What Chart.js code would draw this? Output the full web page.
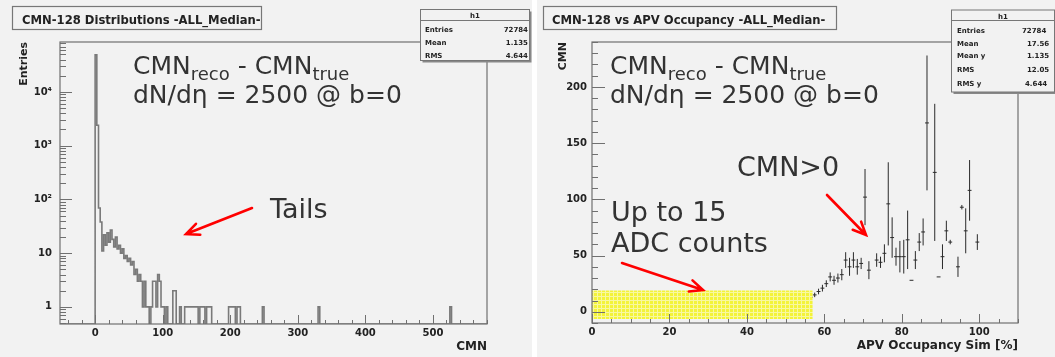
<!DOCTYPE html>
<html><head><meta charset="utf-8">
<script src="https://cdn.jsdelivr.net/npm/chart.js@4"></script>
<style>
html,body{margin:0;padding:0;}
body{width:1055px;height:357px;background:#ffffff;position:relative;overflow:hidden;font-family:"DejaVu Sans",sans-serif;}
.panel{position:absolute;top:0;height:357px;background:#f2f2f2;}
#pl{left:0;width:532px;}
#pr{left:537px;width:518px;}
#cl{position:absolute;left:0;top:0;}
#cr{position:absolute;left:537px;top:0;}
#ov{position:absolute;left:0;top:0;pointer-events:none;}
</style></head><body>
<div class="panel" id="pl"></div><div class="panel" id="pr"></div>
<canvas id="cl" width="532" height="357"></canvas>
<canvas id="cr" width="518" height="357"></canvas>
<svg id="ov" width="1055" height="357" xmlns="http://www.w3.org/2000/svg" font-family="DejaVu Sans">
  <!-- left title -->
  <rect x="12.5" y="6.5" width="249" height="23" fill="#f2f2f2" stroke="#777" stroke-width="1.2"/>
  <text x="22" y="23.5" font-size="11.6" font-weight="bold" fill="#222">CMN-128 Distributions -ALL_Median-</text>
  <!-- right title -->
  <rect x="543.5" y="6.5" width="293" height="23" fill="#f2f2f2" stroke="#777" stroke-width="1.2"/>
  <text x="552" y="23.5" font-size="11.6" font-weight="bold" fill="#222">CMN-128 vs APV Occupancy -ALL_Median-</text>
  <!-- left stats -->
  <rect x="422.5" y="11.5" width="109" height="51" fill="#888"/>
  <rect x="420.5" y="9.5" width="109" height="51" fill="#f2f2f2" stroke="#777" stroke-width="1"/>
  <line x1="420.5" y1="20.5" x2="529.5" y2="20.5" stroke="#777"/>
  <g font-size="7" font-weight="bold" fill="#222">
    <text x="475" y="18" text-anchor="middle">h1</text>
    <text x="425" y="32">Entries</text><text x="528" y="32" text-anchor="end">72784</text>
    <text x="425" y="45">Mean</text><text x="528" y="45" text-anchor="end">1.135</text>
    <text x="425" y="57.5">RMS</text><text x="528" y="57.5" text-anchor="end">4.644</text>
  </g>
  <!-- right stats -->
  <rect x="953.5" y="12" width="103" height="82" fill="#888"/>
  <rect x="951.5" y="10" width="103" height="82" fill="#f2f2f2" stroke="#777" stroke-width="1"/>
  <line x1="951.5" y1="20.5" x2="1054.5" y2="20.5" stroke="#777"/>
  <g font-size="7" font-weight="bold" fill="#222">
    <text x="1003" y="18.5" text-anchor="middle">h1</text>
    <text x="957" y="33">Entries</text><text x="1022" y="33">72784</text>
    <text x="957" y="46">Mean</text><text x="1027" y="46">17.56</text>
    <text x="957" y="58">Mean y</text><text x="1027" y="58">1.135</text>
    <text x="957" y="72">RMS</text><text x="1027" y="72">12.05</text>
    <text x="957" y="86">RMS y</text><text x="1025" y="86">4.644</text>
  </g>
  <!-- annotations left -->
  <g fill="#333" font-size="25">
    <text x="133" y="73.5">CMN<tspan font-size="18" dy="6">reco</tspan><tspan dy="-6"> - CMN</tspan><tspan font-size="18" dy="6">true</tspan></text>
    <text x="133" y="103">dN/dη = 2500 @ b=0</text>
    <text x="270" y="218" font-size="27">Tails</text>
  </g>
  <g fill="#333" font-size="25">
    <text x="610" y="73.5">CMN<tspan font-size="18" dy="6">reco</tspan><tspan dy="-6"> - CMN</tspan><tspan font-size="18" dy="6">true</tspan></text>
    <text x="610" y="103">dN/dη = 2500 @ b=0</text>
    <text x="737" y="176" font-size="27">CMN&gt;0</text>
    <text x="611" y="221" font-size="27">Up to 15</text>
    <text x="611" y="252" font-size="27">ADC counts</text>
  </g>
  <g id="arrows" stroke="#f00" stroke-width="2.6" fill="none" stroke-linecap="round"></g>
</svg>
<script>
// ---------------- DATA ----------------
// Left: CMN distribution histogram (bin low edge, entries); bins not listed are empty
const histBinWidth = 2.5;
const histLowEdges = [0, 2.5, 5, 7.5, 10, 12.5, 15, 17.5, 20, 22.5, 25, 27.5, 30, 32.5, 35, 37.5, 40, 42.5, 45, 47.5, 50, 52.5, 55, 57.5, 60, 62.5, 65, 67.5, 70, 72.5, 75, 77.5, 82.5, 85, 87.5, 90, 92.5, 95, 97.5, 100, 105, 115, 117.5, 125, 132.5, 135, 137.5, 140, 142.5, 145, 147.5, 150, 155, 157.5, 160, 165, 167.5, 170, 197.5, 200, 202.5, 205, 210, 212.5, 247.5, 330, 525];
const histCounts   = [49000, 2400, 69, 38, 11, 22, 14, 24, 16, 27, 18, 13, 20, 12, 14, 10, 12, 8, 9, 7, 8, 6, 7, 4, 5, 3, 4, 3, 1, 3, 1, 1, 1, 3, 3, 1, 4, 3, 1, 1, 1, 2, 2, 1, 1, 1, 1, 1, 1, 1, 1, 1, 1, 1, 1, 1, 1, 1, 1, 1, 1, 1, 1, 1, 1, 1, 1];
const histXRange = [-52, 580];
const histYRange = [0.48, 85000];
const histXTicks = [0, 100, 200, 300, 400, 500];
const histYTicks = [1, 10, 100, 1000, 10000];
const histYTickLabels = ['1', '10', '10²', '10³', '10⁴'];

// Right: CMN vs APV occupancy profile (bin centre, mean CMN, error)
const occX = [0.5,1.5,2.5,3.5,4.5,5.5,6.5,7.5,8.5,9.5,10.5,11.5,12.5,13.5,14.5,15.5,16.5,17.5,18.5,19.5,20.5,21.5,22.5,23.5,24.5,25.5,26.5,27.5,28.5,29.5,30.5,31.5,32.5,33.5,34.5,35.5,36.5,37.5,38.5,39.5,40.5,41.5,42.5,43.5,44.5,45.5,46.5,47.5,48.5,49.5,50.5,51.5,52.5,53.5,54.5,55.5,56.5,57.5,58.5,59.5,60.5,61.5,62.5,63.5,64.5,65.5,66.5,67.5,68.5,69.5,70.5,71.5,73.5,74.5,75.5,76.5,77.5,78.5,79.5,80.5,81.5,82.5,83.5,84.5,85.5,86.5,88.5,89.5,90.5,91.5,92.5,94.5,95.5,96.5,97.5,99.5];
const occY = [1.5,1.5,1.5,1.5,1.5,1.5,1.5,1.5,1.5,1.5,1.5,1.5,1.5,1.5,1.5,1.5,1.5,1.5,1.5,1.5,1.5,1.5,1.5,3,3,3,3,3,3,3,3,3,3,3,3,3,3,3,3,3,3,3,3,5,5,5,5,5,5,5,5,5,6,7,9,11,13,15,18,21,25,31,28,30,33,46,40,46,40,43,102,37,46,44,52,96,66,49,49,49,64,28,46,62,71,168,124,31,49,72,62,40,93,72,108,62];
const occErr = [0.3,0.3,0.3,0.3,0.3,0.3,0.3,0.3,0.3,0.3,0.3,0.3,0.3,0.3,0.3,0.3,0.3,0.3,0.3,0.3,0.3,0.3,0.3,0.3,0.3,0.3,0.3,0.3,0.3,0.3,0.3,0.3,0.3,0.3,0.3,0.3,0.3,0.3,0.3,0.3,0.3,0.3,0.3,0.4,0.4,0.4,0.4,0.4,0.4,0.4,0.5,0.5,0.6,0.8,1,1.2,1.5,2,2.5,3,3,4,4,4,5,7,8,7,7,5,25,8,6,5,8,37,18,8,14,15,26,0,8,8,12,60,61,0,11,9,2,9,2,20,27,7];
const occXRange = [0, 110];
const occYRange = [-10, 240];
const occXTicks = [0, 20, 40, 60, 80, 100];
const occYTicks = [0, 50, 100, 150, 200];
const bandX = [0, 57];       // "Up to 15 ADC counts" band, x extent
const bandY = [-6.5, 19];    // band y extent

// ---------------- helpers ----------------
const FONT = 'DejaVu Sans';
function range(a, b, s) { const r = []; for (let v = a; v <= b + 1e-9; v += s) r.push(+v.toFixed(6)); return r; }

// ROOT-like frame + inward ticks plugin
const rootAxes = {
  id: 'rootAxes',
  afterDatasetsDraw(chart, args, o) {
    const { ctx, chartArea: a, scales: { x, y } } = chart;
    ctx.save();
    ctx.strokeStyle = o.color; ctx.lineWidth = 1.2;
    ctx.strokeRect(a.left, a.top, a.right - a.left, a.bottom - a.top);
    ctx.lineWidth = 1;
    ctx.beginPath();
    const tick = (vals, len, isX) => vals.forEach(v => {
      if (isX) { const p = Math.round(x.getPixelForValue(v)) + 0.5; if (p < a.left - 0.5 || p > a.right + 0.5) return; ctx.moveTo(p, a.bottom); ctx.lineTo(p, a.bottom - len); }
      else { const p = Math.round(y.getPixelForValue(v)) + 0.5; if (p < a.top - 0.5 || p > a.bottom + 0.5) return; ctx.moveTo(a.left, p); ctx.lineTo(a.left + len, p); }
    });
    tick(o.xMajor, o.xMajorLen, true); tick(o.xMinor, o.xMinorLen, true);
    tick(o.yMajor, o.yMajorLen, false); tick(o.yMinor, o.yMinorLen, false);
    ctx.stroke();
    ctx.restore();
  }
};

function axisCommon(fixed, isX) {
  return {
    afterFit(s) { if (isX) s.height = fixed; else s.width = fixed; },
    grid: { display: false, drawTicks: false },
    border: { display: false },
  };
}

// ---------------- LEFT CHART ----------------
const histMap = new Map(histLowEdges.map((e, i) => [e.toFixed(2), histCounts[i]]));
const histSteps = [];
for (let e = -50; e < histXRange[1]; e += histBinWidth) {
  // empty bins are drawn on the frame floor, as ROOT does on a log axis
  histSteps.push({ x: e, y: histMap.get(e.toFixed(2)) || histYRange[0] });
}
histSteps.push({ x: histSteps[histSteps.length - 1].x + histBinWidth, y: histYRange[0] });

const logMinor = [];
for (let d = 0.1; d <= 10000; d *= 10) for (let k = 2; k <= 9; k++) { const v = k * d; if (v >= histYRange[0] && v <= histYRange[1]) logMinor.push(v); }

new Chart(document.getElementById('cl'), {
  type: 'line',
  data: { datasets: [{ data: histSteps, stepped: true, borderColor: '#7a7a7a', borderWidth: 1.6, pointRadius: 0, fill: false }] },
  options: {
    responsive: false, animation: false, devicePixelRatio: 1,
    layout: { padding: { left: 15, right: 45, top: 42, bottom: 3 } },
    plugins: {
      legend: { display: false }, tooltip: { enabled: false },
      rootAxes: { color: '#707070', xMajor: histXTicks, xMinor: range(-40, 580, 20).filter(v => v % 100 !== 0), xMajorLen: 9, xMinorLen: 4,
        yMajor: histYTicks, yMinor: logMinor, yMajorLen: 12, yMinorLen: 6 }
    },
    scales: {
      x: Object.assign(axisCommon(30, true), { type: 'linear', min: histXRange[0], max: histXRange[1],
        afterBuildTicks(s) { s.ticks = histXTicks.map(v => ({ value: v })); },
        ticks: { autoSkip: false, maxRotation: 0, padding: 3, color: '#222', font: { family: FONT, size: 10, weight: 'bold' }, callback: v => String(v) },
        title: { display: true, text: 'CMN', align: 'end', color: '#222', font: { family: FONT, size: 12, weight: 'bold' }, padding: { top: 0, bottom: 0 } } }),
      y: Object.assign(axisCommon(45, false), { type: 'logarithmic', min: histYRange[0], max: histYRange[1],
        afterBuildTicks(s) { s.ticks = histYTicks.map(v => ({ value: v })); },
        ticks: { autoSkip: false, padding: 8, color: '#222', font: { family: FONT, size: 10, weight: 'bold' }, callback: (v) => histYTickLabels[histYTicks.indexOf(v)] ?? '' },
        title: { display: true, text: 'Entries', align: 'end', color: '#222', font: { family: FONT, size: 11, weight: 'bold' }, padding: { top: 2.5, bottom: 0 } } })
    }
  },
  plugins: [rootAxes]
});

// ---------------- RIGHT CHART ----------------
const segs = [];
occX.forEach((xv, i) => {
  const yv = occY[i], e = occErr[i];
  segs.push({ x: xv - 0.5, y: yv }, { x: xv + 0.5, y: yv }, { x: xv, y: null });
  if (e > 0) segs.push({ x: xv, y: yv - e }, { x: xv, y: yv + e }, { x: xv, y: null });
});

const pc = document.createElement('canvas'); pc.width = 4; pc.height = 4;
const pctx = pc.getContext('2d');
pctx.fillStyle = '#f3f33a'; pctx.fillRect(0, 0, 4, 4);
pctx.fillStyle = '#f8f8a0'; pctx.fillRect(0, 0, 4, 1); pctx.fillRect(0, 0, 1, 4);
const bandPattern = pctx.createPattern(pc, 'repeat');

new Chart(document.getElementById('cr'), {
  type: 'line',
  data: { datasets: [
    { data: bandX.map(v => ({ x: v, y: bandY[0] })), borderWidth: 0, pointRadius: 0, fill: false },
    { data: bandX.map(v => ({ x: v, y: bandY[1] })), borderWidth: 0, pointRadius: 0, fill: '-1', backgroundColor: bandPattern },
    { data: segs, borderColor: '#2a2a2a', borderWidth: 1, pointRadius: 0, spanGaps: false, fill: false }
  ] },
  options: {
    responsive: false, animation: false, devicePixelRatio: 1,
    layout: { padding: { left: 10, right: 37, top: 42, bottom: 4 } },
    plugins: {
      legend: { display: false }, tooltip: { enabled: false },
      rootAxes: { color: '#707070', xMajor: occXTicks, xMinor: range(5, 110, 5).filter(v => v % 20 !== 0), xMajorLen: 9, xMinorLen: 4,
        yMajor: occYTicks, yMinor: range(-10, 240, 10).filter(v => v % 50 !== 0), yMajorLen: 13, yMinorLen: 6 }
    },
    scales: {
      x: Object.assign(axisCommon(30, true), { type: 'linear', min: occXRange[0], max: occXRange[1],
        afterBuildTicks(s) { s.ticks = occXTicks.map(v => ({ value: v })); },
        ticks: { autoSkip: false, maxRotation: 0, padding: 3, color: '#222', font: { family: FONT, size: 10, weight: 'bold' }, callback: v => String(v) },
        title: { display: true, text: 'APV Occupancy Sim [%]', align: 'end', color: '#222', font: { family: FONT, size: 12, weight: 'bold' }, padding: { top: 0, bottom: 0 } } }),
      y: Object.assign(axisCommon(45, false), { type: 'linear', min: occYRange[0], max: occYRange[1],
        afterBuildTicks(s) { s.ticks = occYTicks.map(v => ({ value: v })); },
        ticks: { autoSkip: false, padding: 5, color: '#222', font: { family: FONT, size: 10, weight: 'bold' }, callback: v => String(v) },
        title: { display: true, text: 'CMN', align: 'end', color: '#222', font: { family: FONT, size: 11, weight: 'bold' }, padding: { top: 9.5, bottom: 0 } } })
    }
  },
  plugins: [rootAxes]
});

// ---------------- arrows (annotation) ----------------
function arrow(x1, y1, x2, y2) {
  const dx = x2 - x1, dy = y2 - y1, L = Math.hypot(dx, dy), ux = dx / L, uy = dy / L, h = 13, w = 0.45;
  const bx = x2 - ux * h, by = y2 - uy * h;
  const p1 = [bx - uy * h * w, by + ux * h * w], p2 = [bx + uy * h * w, by - ux * h * w];
  return `<path d="M${x1},${y1} L${x2},${y2} M${p1[0]},${p1[1]} L${x2},${y2} L${p2[0]},${p2[1]}"/>`;
}
document.getElementById('arrows').innerHTML =
  arrow(252, 208, 186, 234) + arrow(622, 263, 703, 290) + arrow(827, 195, 866, 235);
</script>
</body></html>
